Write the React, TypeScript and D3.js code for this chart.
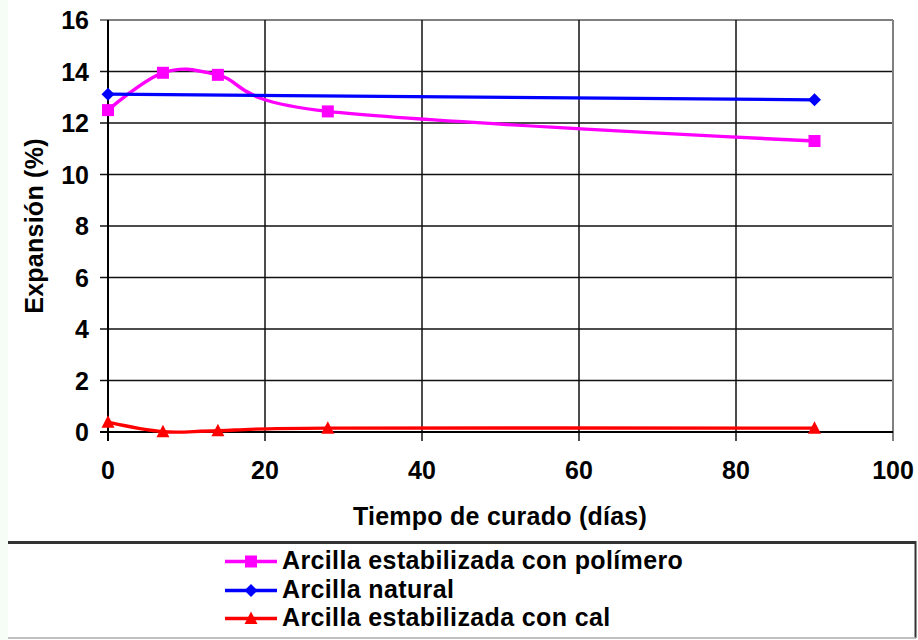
import React from "react";
import * as d3 from "d3";

// Curing time (days) and expansion (%) for each clay treatment
const polimeroDias = [0, 7, 14, 28, 90];
const polimeroExp = [12.5, 13.95, 13.87, 12.45, 11.3];
const naturalDias = [0, 90];
const naturalExp = [13.12, 12.9];
const calDias = [0, 7, 14, 28, 90];
const calExp = [0.38, 0.01, 0.05, 0.15, 0.15];

const seriesNames = [
  "Arcilla estabilizada con polímero",
  "Arcilla natural",
  "Arcilla estabilizada con cal",
];
const xTicks = [0, 20, 40, 60, 80, 100];
const yTicks = [0, 2, 4, 6, 8, 10, 12, 14, 16];
const xTitle = "Tiempo de curado (días)";
const yTitle = "Expansión (%)";

const W = 918;
const H = 640;
const FONT = "'Liberation Sans', Arial, sans-serif";

type Marker = "square" | "diamond" | "triangle";

function MarkerShape({ kind, x, y, color }: { kind: Marker; x: number; y: number; color: string }) {
  if (kind === "square") {
    return <rect x={x - 6} y={y - 6} width={12} height={12} fill={color} />;
  }
  if (kind === "diamond") {
    return <path d={`M${x},${y - 6.5}L${x + 6.5},${y}L${x},${y + 6.5}L${x - 6.5},${y}Z`} fill={color} />;
  }
  return <path d={`M${x},${y - 7}L${x + 6.5},${y + 5.5}L${x - 6.5},${y + 5.5}Z`} fill={color} />;
}

export default function App() {
  const x = d3.scaleLinear().domain([0, 100]).range([108, 893]);
  const y = d3.scaleLinear().domain([0, 16]).range([432, 20]);

  const smooth = d3
    .line<[number, number]>()
    .x((d) => x(d[0]))
    .y((d) => y(d[1]))
    .curve(d3.curveCardinal.tension(0));
  const straight = d3
    .line<[number, number]>()
    .x((d) => x(d[0]))
    .y((d) => y(d[1]));

  const series = [
    {
      name: seriesNames[0],
      pts: polimeroDias.map((d, i) => [d, polimeroExp[i]] as [number, number]),
      color: "#ff00ff",
      marker: "square" as Marker,
      gen: smooth,
    },
    {
      name: seriesNames[1],
      pts: naturalDias.map((d, i) => [d, naturalExp[i]] as [number, number]),
      color: "#0000ff",
      marker: "diamond" as Marker,
      gen: straight,
    },
    {
      name: seriesNames[2],
      pts: calDias.map((d, i) => [d, calExp[i]] as [number, number]),
      color: "#ff0000",
      marker: "triangle" as Marker,
      gen: smooth,
    },
  ];

  const legendBaselines = [569, 598, 626];

  return (
    <svg
      width={W}
      height={H}
      style={{ position: "absolute", left: 0, top: 0, background: "#fff" }}
      fontFamily={FONT}
      fontWeight="bold"
    >
      <rect x={0} y={0} width={8} height={H} fill="#f6fcf6" />

      {/* horizontal grid */}
      {yTicks.map((t) => (
        <line
          key={`hy${t}`}
          x1={x(0) - 8}
          x2={x(100)}
          y1={y(t)}
          y2={y(t)}
          stroke={t === 16 ? "#808080" : "#111"}
          strokeWidth={t === 16 ? 2 : 1.5}
        />
      ))}
      {/* vertical grid */}
      {xTicks.map((t) => (
        <line
          key={`vx${t}`}
          x1={x(t)}
          x2={x(t)}
          y1={y(16)}
          y2={y(0) + 9}
          stroke={t === 100 ? "#808080" : "#111"}
          strokeWidth={t === 100 ? 2 : 1.5}
        />
      ))}
      <line x1={x(0)} x2={x(0)} y1={y(16)} y2={y(0) + 9} stroke="#000" strokeWidth={2} />
      <line x1={x(0) - 8} x2={x(100)} y1={y(0)} y2={y(0)} stroke="#000" strokeWidth={2} />

      {/* y tick labels */}
      {yTicks.map((t) => (
        <text key={`ly${t}`} x={89} y={y(t) + 9} textAnchor="end" fontSize={25} fill="#000">
          {t}
        </text>
      ))}
      {/* x tick labels */}
      {xTicks.map((t) => (
        <text key={`lx${t}`} x={x(t)} y={479} textAnchor="middle" fontSize={25} fill="#000">
          {t}
        </text>
      ))}

      {/* axis titles */}
      <text x={500} y={525} textAnchor="middle" fontSize={25} letterSpacing={0.25} fill="#000">
        {xTitle}
      </text>
      <text
        transform={`translate(43,226) rotate(-90)`}
        textAnchor="middle"
        fontSize={25}
        letterSpacing={0.25}
        fill="#000"
      >
        {yTitle}
      </text>

      {/* series */}
      {series.map((s) => (
        <g key={s.name}>
          <path d={s.gen(s.pts) ?? ""} fill="none" stroke={s.color} strokeWidth={3.4} />
          {s.pts.map((p, i) => (
            <MarkerShape key={i} kind={s.marker} x={x(p[0])} y={y(p[1])} color={s.color} />
          ))}
        </g>
      ))}

      {/* legend */}
      <line x1={8} x2={916} y1={542.5} y2={542.5} stroke="#333" strokeWidth={3} />
      <line x1={915.5} x2={915.5} y1={541} y2={638} stroke="#333" strokeWidth={2} />
      <line x1={8} x2={916} y1={638} y2={638} stroke="#aaa" strokeWidth={1.5} />
      {series.map((s, i) => {
        const by = legendBaselines[i];
        const ly = by - 7.5;
        return (
          <g key={`lg${i}`}>
            <line x1={225} x2={277} y1={ly} y2={ly} stroke={s.color} strokeWidth={3.4} />
            <MarkerShape kind={s.marker} x={251} y={ly} color={s.color} />
            <text x={282} y={by} fontSize={25} letterSpacing={0.37} fill="#000">
              {s.name}
            </text>
          </g>
        );
      })}
    </svg>
  );
}
